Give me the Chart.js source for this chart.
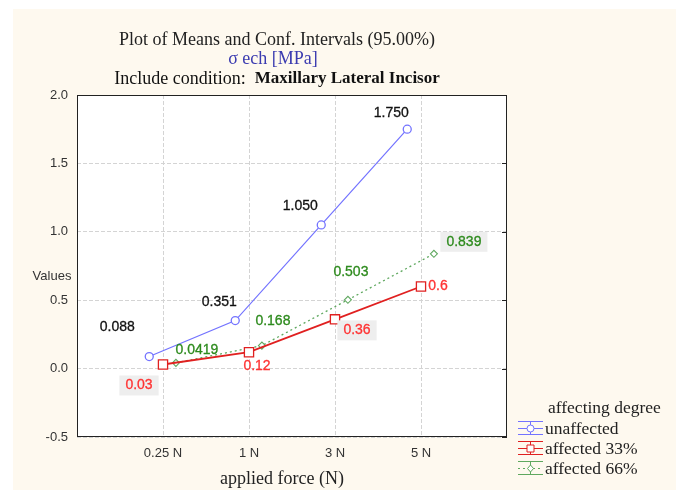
<!DOCTYPE html>
<html>
<head>
<meta charset="utf-8">
<script src="https://cdn.jsdelivr.net/npm/chart.js@4.4.0/dist/chart.umd.min.js"></script>
<style>
    html, body { margin: 0; padding: 0; background: #ffffff; }
    #wrap { width: 679px; height: 492px; }
</style>
</head>
<body>
<div id="wrap"><canvas id="chart" width="679" height="492"></canvas></div>
<script>
// data
const categories = ['0.25 N', '1 N', '3 N', '5 N'];
const unaffected = [0.088, 0.351, 1.050, 1.750];
const affected33 = [0.03, 0.12, 0.36, 0.6];
const affected66 = [0.0419, 0.168, 0.503, 0.839];
const unaffectedText = ['0.088', '0.351', '1.050', '1.750'];
const affected33Text = ['0.03', '0.12', '0.36', '0.6'];
const affected66Text = ['0.0419', '0.168', '0.503', '0.839'];
const yTicks = [-0.5, 0.0, 0.5, 1.0, 1.5, 2.0];

const SANS = '"Liberation Sans", Arial, sans-serif';
const SERIF = '"Liberation Serif", "DejaVu Serif", serif';

function toPoints(values, dodge) {
    return values.map(function (v, i) { return { x: i + 1 + dodge, y: v }; });
}

// background, titles, axis captions, legend
const decor = {
    id: 'decor',
    beforeDraw(chart) {
        const ctx = chart.ctx, a = chart.chartArea;
        ctx.save();
        ctx.fillStyle = '#ffffff';
        ctx.fillRect(0, 0, chart.width, chart.height);
        ctx.fillStyle = '#fef9ef';
        ctx.fillRect(13, 9, 663, 481);
        ctx.fillStyle = '#ffffff';
        ctx.fillRect(a.left, a.top, a.right - a.left, a.bottom - a.top);
        ctx.restore();
    },
    afterDraw(chart) {
        const ctx = chart.ctx, a = chart.chartArea;
        ctx.save();
        ctx.textBaseline = 'middle';
        ctx.textAlign = 'center';
        ctx.fillStyle = '#222222';
        ctx.font = '18px ' + SERIF;
        ctx.fillText('Plot of Means and Conf. Intervals (95.00%)', 277, 40);
        ctx.fillStyle = '#3b3bb0';
        ctx.fillText('σ ech [MPa]', 273, 59);

        // third line, mixed weight
        const part1 = 'Include condition:  ';
        const part2 = 'Maxillary Lateral Incisor';
        ctx.font = '18px ' + SERIF;
        const w1 = ctx.measureText(part1).width;
        ctx.font = 'bold 17px ' + SERIF;
        const w2 = ctx.measureText(part2).width;
        let x0 = 277 - (w1 + w2) / 2;
        ctx.textAlign = 'left';
        ctx.fillStyle = '#111111';
        ctx.font = '18px ' + SERIF;
        ctx.fillText(part1, x0, 79);
        ctx.font = 'bold 17px ' + SERIF;
        ctx.fillText(part2, x0 + w1, 79);

        // axis captions
        ctx.textAlign = 'center';
        ctx.fillStyle = '#333333';
        ctx.font = '13px ' + SANS;
        ctx.fillText('Values', 52, 276);
        ctx.fillStyle = '#222222';
        ctx.font = '18px ' + SERIF;
        ctx.fillText('applied force (N)', 282, 479);

        // frame with small inner ticks on the right side
        ctx.strokeStyle = '#222222';
        ctx.lineWidth = 1;
        ctx.strokeRect(a.left + 0.5, a.top + 0.5, a.right - a.left - 1, a.bottom - a.top - 1);
        const ys = chart.scales.y;
        ctx.beginPath();
        yTicks.forEach(function (v) {
            const py = Math.round(ys.getPixelForValue(v)) + 0.5;
            ctx.moveTo(a.right - 5, py); ctx.lineTo(a.right, py);
        });
        ctx.stroke();

        // legend
        ctx.textAlign = 'left';
        ctx.font = '17.5px ' + SERIF;
        ctx.fillStyle = '#222222';
        ctx.fillText('affecting degree', 548, 408);
        chart.data.datasets.forEach(function (ds, i) {
            const y = 428 + i * 20;
            const x1 = 518, x2 = 543, xm = 530;
            ctx.strokeStyle = ds.borderColor;
            ctx.lineWidth = 1;
            ctx.beginPath();
            ctx.moveTo(x1, y - 6.5); ctx.lineTo(x2, y - 6.5);
            ctx.moveTo(x1, y + 6.5); ctx.lineTo(x2, y + 6.5);
            ctx.moveTo(xm + 0.5, y - 6.5); ctx.lineTo(xm + 0.5, y + 6.5);
            ctx.stroke();
            ctx.setLineDash(ds.borderDash || []);
            ctx.beginPath();
            ctx.moveTo(x1, y + 0.5); ctx.lineTo(x2, y + 0.5);
            ctx.stroke();
            ctx.setLineDash([]);
            ctx.fillStyle = '#ffffff';
            ctx.beginPath();
            if (ds.pointStyle === 'rect') {
                ctx.rect(xm - 3, y - 3, 7, 7);
            } else if (ds.pointStyle === 'rectRot') {
                ctx.moveTo(xm + 0.5, y - 3); ctx.lineTo(xm + 3.5, y + 0.5);
                ctx.lineTo(xm + 0.5, y + 4); ctx.lineTo(xm - 2.5, y + 0.5); ctx.closePath();
            } else {
                ctx.arc(xm + 0.5, y + 0.5, 3.5, 0, Math.PI * 2);
            }
            ctx.fill();
            ctx.stroke();
            ctx.fillStyle = '#222222';
            ctx.fillText(ds.label, 545, y + 1);
        });
        ctx.restore();
    }
};

// value labels next to the points
const valueLabels = {
    id: 'valueLabels',
    afterDatasetsDraw(chart) {
        const ctx = chart.ctx;
        ctx.save();
        ctx.font = '14px ' + SANS;
        ctx.textAlign = 'center';
        ctx.textBaseline = 'middle';
        chart.data.datasets.forEach(function (ds, di) {
            const meta = chart.getDatasetMeta(di);
            meta.data.forEach(function (pt, i) {
                const off = ds.labelOffsets[i];
                const x = pt.x + off[0], y = pt.y + off[1];
                const text = ds.valueText[i];
                if (ds.labelBoxes[i]) {
                    const w = ctx.measureText(text).width;
                    ctx.fillStyle = '#eeeeee';
                    ctx.fillRect(x - w / 2 - 6, y - 10, w + 12, 20);
                }
                ctx.fillStyle = ds.labelColor;
                ctx.fillText(text, x, y);
                ctx.strokeStyle = ds.labelColor;
                ctx.lineWidth = 0.3;
                ctx.strokeText(text, x, y);
            });
        });
        ctx.restore();
    }
};

new Chart(document.getElementById('chart'), {
    type: 'line',
    data: {
        datasets: [
            {
                label: 'unaffected',
                data: toPoints(unaffected, -0.16),
                borderColor: '#7373ff',
                backgroundColor: '#ffffff',
                borderWidth: 1.2,
                pointStyle: 'circle',
                pointRadius: 4,
                pointBorderWidth: 1.3,
                valueText: unaffectedText,
                labelColor: '#111111',
                labelOffsets: [[-32, -29], [-16, -18], [-21, -19], [-16, -16]],
                labelBoxes: [false, false, false, false]
            },
            {
                label: 'affected 33%',
                data: toPoints(affected33, 0),
                borderColor: '#e02020',
                backgroundColor: '#ffffff',
                borderWidth: 1.8,
                pointStyle: 'rect',
                pointRadius: 6.5,
                pointBorderWidth: 1.3,
                valueText: affected33Text,
                labelColor: '#ff3333',
                labelOffsets: [[-24, 21], [8, 14], [22, 11], [17, 0]],
                labelBoxes: [true, false, true, false]
            },
            {
                label: 'affected 66%',
                data: toPoints(affected66, 0.15),
                borderColor: '#5fa85f',
                backgroundColor: '#ffffff',
                borderWidth: 1.3,
                borderDash: [2, 3],
                pointStyle: 'rectRot',
                pointRadius: 3.5,
                pointBorderWidth: 1.1,
                valueText: affected66Text,
                labelColor: '#2e8b1e',
                labelOffsets: [[21, -13], [11, -24], [3, -28], [30, -12]],
                labelBoxes: [false, false, false, true]
            }
        ]
    },
    options: {
        responsive: false,
        animation: false,
        layout: { padding: { left: 0, right: 172, top: 95, bottom: 0 } },
        plugins: {
            legend: { display: false },
            title: { display: false },
            tooltip: { enabled: false }
        },
        scales: {
            x: {
                type: 'linear',
                min: 0,
                max: 5,
                afterBuildTicks(scale) {
                    scale.ticks = categories.map(function (c, i) { return { value: i + 1 }; });
                },
                afterFit(scale) { scale.height = 55; },
                ticks: {
                    callback: function (v) { return categories[v - 1]; },
                    color: '#333333',
                    font: { family: SANS, size: 13 },
                    padding: 9,
                    maxRotation: 0
                },
                grid: { color: '#d4d4d4', drawTicks: false },
                border: { display: false, dash: [4, 2] }
            },
            y: {
                min: -0.5,
                max: 2.0,
                afterBuildTicks(scale) {
                    scale.ticks = yTicks.map(function (v) { return { value: v }; });
                },
                afterFit(scale) { scale.width = 77; },
                ticks: {
                    callback: function (v) { return v.toFixed(1); },
                    color: '#333333',
                    font: { family: SANS, size: 13 },
                    padding: 9
                },
                grid: { color: '#d4d4d4', drawTicks: false },
                border: { display: false, dash: [4, 2] }
            }
        }
    },
    plugins: [decor, valueLabels]
});
</script>
</body>
</html>
